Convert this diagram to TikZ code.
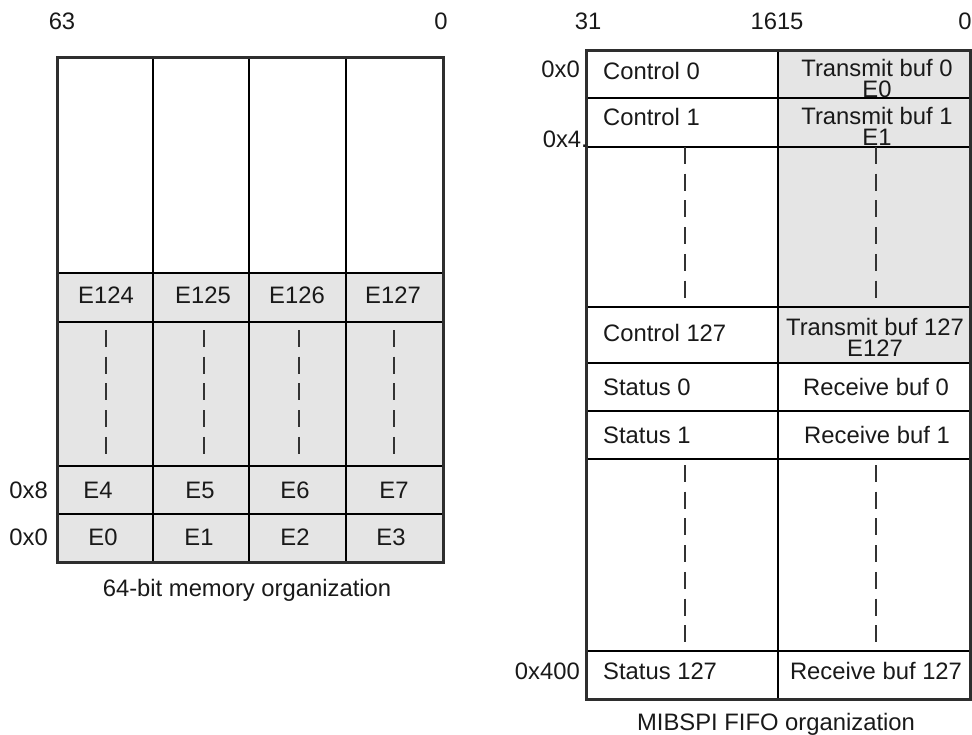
\documentclass[tikz,border=0pt]{standalone}
\usepackage{fontspec}
\setmainfont{Liberation Sans}
\begin{document}
\begin{tikzpicture}[x=1pt,y=-1pt,
  frame/.style={line width=3pt, draw=black!82},
  gridline/.style={line width=2pt, draw=black},
  cellfill/.style={fill=black!10},
  dotline/.style={line width=1.6pt, draw=black!80, dash pattern=on 17pt off 9.7pt},
  txt/.style={font=\fontsize{23.8}{26}\selectfont, inner sep=0pt, anchor=base, text=black!90},
  twoline/.style={font=\fontsize{23.8}{20.5}\selectfont, inner sep=0pt, anchor=center, align=center, text=black!90},
  ltxt/.style={txt, anchor=base west},
  rtxt/.style={txt, anchor=base east}]
\useasboundingbox (0,0) rectangle (972,734);

% ---------- left table: 64-bit memory ----------
\fill[cellfill] (57,273) rectangle (443,562);
\foreach \yy in {273,322,466,514} \draw[gridline] (57,\yy) -- (443,\yy);
\foreach \xx in {153,249,346} \draw[gridline] (\xx,57) -- (\xx,562);
\foreach \xx in {106,204,299,394} \draw[dotline] (\xx,330) -- (\xx,454);
\draw[frame] (57,57) rectangle (443,562);

\node[txt] (h63) at (62,29.5) {63};
\node[txt] (h0a) at (441,29.5) {0};

\node[txt] (e124) at (106,303.5) {E124};
\node[txt] (e125) at (203,303.5) {E125};
\node[txt] (e126) at (297,303.5) {E126};
\node[txt] (e127) at (393,303.5) {E127};
\node[txt] (e4) at (98,498.5) {E4};
\node[txt] (e5) at (200,498.5) {E5};
\node[txt] (e6) at (295,498.5) {E6};
\node[txt] (e7) at (394,498.5) {E7};
\node[txt] (e0) at (103,545.5) {E0};
\node[txt] (e1) at (199,545.5) {E1};
\node[txt] (e2) at (295,545.5) {E2};
\node[txt] (e3) at (391,545.5) {E3};

\node[rtxt] (a8) at (48,498.5) {0x8};
\node[rtxt] (a0) at (48,545.5) {0x0};

\node[txt] (cap1) at (247,596.5) {64-bit memory organization};

% ---------- right table: MIBSPI FIFO ----------
\fill[cellfill] (778,50) rectangle (970,363);
\foreach \yy in {98,147,307,363,411,459,651} \draw[gridline] (586,\yy) -- (970,\yy);
\draw[gridline] (778,50) -- (778,699);
\foreach \xx in {685,876} {
  \draw[dotline] (\xx,147) -- (\xx,298);
  \draw[dotline] (\xx,465) -- (\xx,643);
}
\draw[frame] (586,50) rectangle (970,699);

\node[txt] (h31) at (588,29.5) {31};
\node[txt] (h1615) at (777,29.5) {1615};
\node[txt] (h0b) at (965,29.5) {0};

\node[rtxt] (r0) at (580,77) {0x0};
\node[rtxt] (r4) at (588,147.5) {0x4.};
\node[rtxt] (r400) at (580,679.5) {0x400};

\node[ltxt] (c0) at (603,79) {Control 0};
\node[twoline] (t0) at (877,78.5) {Transmit buf 0\\E0};
\node[ltxt] (c1) at (603,125.5) {Control 1};
\node[twoline] (t1) at (877,126.5) {Transmit buf 1\\E1};
\node[ltxt] (c127) at (603,341.5) {Control 127};
\node[twoline] (t127) at (875,337.5) {Transmit buf 127\\E127};
\node[ltxt] (s0) at (603,395.5) {Status 0};
\node[txt] (rb0) at (876,395.5) {Receive buf 0};
\node[ltxt] (s1) at (603,443.5) {Status 1};
\node[txt] (rb1) at (877,443.5) {Receive buf 1};
\node[ltxt] (s127) at (603,679.5) {Status 127};
\node[txt] (rb127) at (876,679.5) {Receive buf 127};

\node[txt] (cap2) at (776,730) {MIBSPI FIFO organization};
\end{tikzpicture}
\end{document}
